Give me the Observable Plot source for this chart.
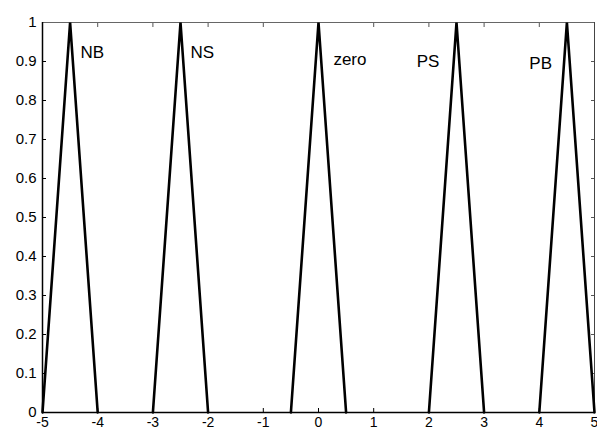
<!DOCTYPE html>
<html>
<head>
<meta charset="utf-8">
<script src="https://cdn.jsdelivr.net/npm/d3@7"></script>
<script src="https://cdn.jsdelivr.net/npm/@observablehq/plot@0.6"></script>
<style>
  html, body { margin: 0; padding: 0; background: #fff; }
  svg { display: block; }
</style>
</head>
<body>
<div id="chart"></div>
<script>
const mfNames = ["NB", "NS", "zero", "PS", "PB"];
const mfLeft  = [-5, -3, -0.5, 2, 4];
const mfPeak  = [-4.5, -2.5, 0, 2.5, 4.5];
const mfRight = [-4, -2, 0.5, 3, 5];
const labelX  = [-4.31, -2.32, 0.27, 1.78, 3.82];
const labelY  = [0.922, 0.922, 0.905, 0.9, 0.895];
const xTicks  = [-5, -4, -3, -2, -1, 0, 1, 2, 3, 4, 5];
const yTicks  = [0, 0.1, 0.2, 0.3, 0.4, 0.5, 0.6, 0.7, 0.8, 0.9, 1];

const pts = [];
mfNames.forEach((n, i) => {
  pts.push({name: n, x: mfLeft[i], y: 0});
  pts.push({name: n, x: mfPeak[i], y: 1});
  pts.push({name: n, x: mfRight[i], y: 0});
});
const labels = mfNames.map((n, i) => ({name: n, x: labelX[i], y: labelY[i]}));

const chart = Plot.plot({
  width: 597,
  height: 430,
  marginLeft: 42,
  marginRight: 3,
  marginTop: 22,
  marginBottom: 18,
  style: {fontFamily: "Liberation Sans, Arial, sans-serif", background: "#fff", color: "#000"},
  x: {domain: [-5, 5]},
  y: {domain: [0, 1]},
  marks: [
    Plot.axisX(xTicks, {anchor: "bottom", tickSize: -4, tickPadding: 9, fontSize: 14, label: null, tickFormat: d => d < 0 ? "-" + Math.abs(d) : String(d), stroke: "#000"}),
    Plot.axisX(xTicks, {anchor: "top", tickSize: -4, tickFormat: () => "", label: null, stroke: "#555"}),
    Plot.axisY(yTicks, {anchor: "left", tickSize: -4, tickPadding: 10, fontSize: 15, tickFormat: d => String(d), label: null, stroke: "#000"}),
    Plot.axisY(yTicks, {anchor: "right", tickSize: -4, tickFormat: () => "", label: null, stroke: "#555"}),
    Plot.ruleY([1], {stroke: "#666", strokeWidth: 1}),
    Plot.ruleX([5], {stroke: "#444", strokeWidth: 1}),
    Plot.line(pts, {x: "x", y: "y", z: "name", stroke: "#000", strokeWidth: 2.6, strokeLinejoin: "miter"}),
    Plot.ruleY([0], {stroke: "#000", strokeWidth: 1.5}),
    Plot.ruleX([-5], {stroke: "#000", strokeWidth: 1.5}),
    Plot.text(labels, {x: "x", y: "y", text: "name", textAnchor: "start", lineAnchor: "middle", fontSize: 17, fill: "#000"})
  ]
});
document.getElementById("chart").appendChild(chart);
</script>
</body>
</html>
